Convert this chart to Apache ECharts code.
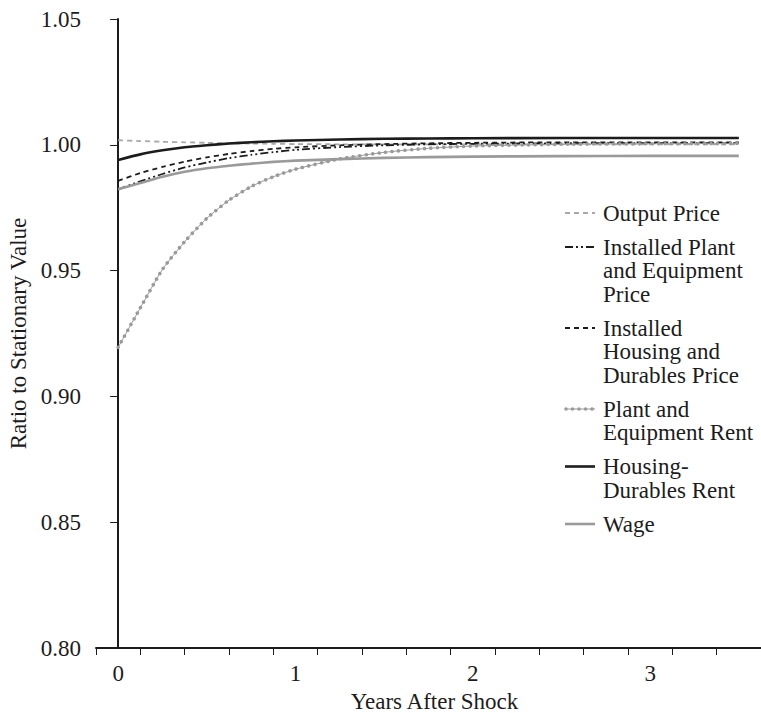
<!DOCTYPE html>
<html><head><meta charset="utf-8">
<script src="https://cdn.jsdelivr.net/npm/echarts@6/dist/echarts.min.js"></script>
<style>html,body{margin:0;padding:0;background:#fff}#c{width:761px;height:713px}</style>
</head><body><div id="c"></div>
<script>
// ---- data ----
const years = [0, 0.125, 0.25, 0.375, 0.5, 0.625, 0.75, 0.875, 1, 1.25, 1.5, 1.75, 2, 2.5, 3, 3.5];
const outputPrice      = [1.0018, 1.0015, 1.0012, 1.0010, 1.0008, 1.0006, 1.0005, 1.0004, 1.0003, 1.0002, 1.0002, 1.0002, 1.0002, 1.0002, 1.0002, 1.0002];
const installedPEPrice = [0.9823, 0.9855, 0.9884, 0.9910, 0.9930, 0.9947, 0.9960, 0.9971, 0.9980, 0.9991, 0.9998, 1.0002, 1.0004, 1.0006, 1.0007, 1.0007];
const installedHDPrice = [0.9857, 0.9888, 0.9912, 0.9933, 0.9950, 0.9964, 0.9975, 0.9984, 0.9990, 0.9998, 1.0003, 1.0006, 1.0008, 1.0010, 1.0010, 1.0010];
const peRent           = [0.9195, 0.9352, 0.9505, 0.9615, 0.9708, 0.9780, 0.9834, 0.9873, 0.9903, 0.9944, 0.9970, 0.9986, 0.9995, 1.0002, 1.0004, 1.0005];
const hdRent           = [0.9940, 0.9962, 0.9978, 0.9990, 0.9998, 1.0005, 1.0010, 1.0014, 1.0017, 1.0021, 1.0024, 1.0025, 1.0026, 1.0027, 1.0027, 1.0027];
const wage             = [0.9823, 0.9848, 0.9873, 0.9893, 0.9907, 0.9917, 0.9925, 0.9932, 0.9937, 0.9943, 0.9948, 0.9951, 0.9953, 0.9955, 0.9956, 0.9956];
const xTickLabels = ['0','','','','1','','','','2','','','','3','',''];
const yMin = 0.80, yMax = 1.05, yStep = 0.05;
const legendNames = ['Output Price', 'Installed Plant\nand Equipment\nPrice', 'Installed\nHousing and\nDurables Price', 'Plant and\nEquipment Rent', 'Housing-\nDurables Rent', 'Wage'];

// ---- chart ----
const FONT = 'Liberation Serif, serif';
const FS = 23;
const BLACK = '#1c1c1c', GRAY = '#9a9a9a', LGRAY = '#a8a8a8';
const pts = arr => years.map((t, i) => [t, arr[i]]);
const chart = echarts.init(document.getElementById('c'), null, {renderer: 'svg'});

const baseLine = {type: 'line', xAxisIndex: 0, yAxisIndex: 0, showSymbol: false, symbol: 'none',
  smooth: 0.2, silent: true, animation: false, z: 3};

const series = [
  Object.assign({}, baseLine, {name: 'Output Price', data: pts(outputPrice),
    lineStyle: {color: LGRAY, width: 1.8, type: [5, 4]}}),
  Object.assign({}, baseLine, {name: 'Installed Plant and Equipment Price', data: pts(installedPEPrice),
    lineStyle: {color: BLACK, width: 1.8, type: [8, 3, 2, 3, 2, 3]}}),
  Object.assign({}, baseLine, {name: 'Installed Housing and Durables Price', data: pts(installedHDPrice),
    lineStyle: {color: BLACK, width: 1.8, type: [5, 4]}}),
  Object.assign({}, baseLine, {name: 'Plant and Equipment Rent', data: pts(peRent),
    lineStyle: {color: GRAY, width: 1, type: 'solid'}}),
  Object.assign({}, baseLine, {name: 'Plant and Equipment Rent dots', data: pts(peRent),
    lineStyle: {color: GRAY, width: 3.6, type: [0.01, 6.5], cap: 'round'}}),
  Object.assign({}, baseLine, {name: 'Housing-Durables Rent', data: pts(hdRent),
    lineStyle: {color: BLACK, width: 2.6, type: 'solid'}}),
  Object.assign({}, baseLine, {name: 'Wage', data: pts(wage),
    lineStyle: {color: GRAY, width: 2.6, type: 'solid'}})
];

// legend drawn as graphic (icon aligned with first text line)
const legendStyles = [
  {stroke: LGRAY, lineWidth: 1.8, lineDash: [5, 4]},
  {stroke: BLACK, lineWidth: 1.8, lineDash: [8, 3, 2, 3, 2, 3]},
  {stroke: BLACK, lineWidth: 1.8, lineDash: [5, 4]},
  {stroke: GRAY, lineWidth: 1, dots: true},
  {stroke: BLACK, lineWidth: 2.6},
  {stroke: GRAY, lineWidth: 2.6}
];
const LH = 23.5, GAP = 10.5;
const legendX0 = 565, legendX1 = 595, textX = 603;
let yc = 213;
const graphics = [];
legendNames.forEach((name, i) => {
  const st = legendStyles[i];
  graphics.push({type: 'line', silent: true, shape: {x1: legendX0, y1: yc, x2: legendX1, y2: yc},
    style: {stroke: st.stroke, lineWidth: st.lineWidth, lineDash: st.lineDash || null}});
  if (st.dots) {
    graphics.push({type: 'line', silent: true, shape: {x1: legendX0 + 1, y1: yc, x2: legendX1, y2: yc},
      style: {stroke: GRAY, lineWidth: 3.6, lineDash: [0.01, 6.5], lineCap: 'round'}});
  }
  graphics.push({type: 'text', silent: true, x: textX, y: yc - LH / 2,
    style: {text: name, font: FS + 'px ' + FONT, fill: BLACK, lineHeight: LH, verticalAlign: 'top', align: 'left'}});
  const lines = name.split('\n').length;
  yc += lines * LH + GAP;
});

chart.setOption({
  animation: false,
  backgroundColor: '#fff',
  grid: {left: 96, top: 19, right: 0, bottom: 65, containLabel: false, outerBoundsMode: 'none'},
  xAxis: [
    {type: 'value', min: -0.125, max: 3.625, show: false},
    {type: 'category', data: xTickLabels, boundaryGap: true, position: 'bottom',
      name: 'Years After Shock', nameLocation: 'middle', nameGap: 40,
      nameTextStyle: {fontFamily: FONT, fontSize: FS, color: BLACK, padding: [0, 0, 0, 12]},
      axisLine: {show: true, lineStyle: {color: BLACK, width: 2}},
      axisTick: {show: true, interval: 0, length: 7, lineStyle: {color: BLACK, width: 1}},
      axisLabel: {interval: 0, margin: 14, fontFamily: FONT, fontSize: FS, color: BLACK},
      splitLine: {show: false}}
  ],
  yAxis: [{type: 'value', min: yMin, max: yMax, interval: yStep,
    name: 'Ratio to Stationary Value', nameLocation: 'middle', nameGap: 66,
    nameTextStyle: {fontFamily: FONT, fontSize: FS, color: BLACK},
    axisLine: {show: true, lineStyle: {color: BLACK, width: 2}},
    axisTick: {show: true, length: 8, lineStyle: {color: BLACK, width: 1}},
    axisLabel: {margin: 15, fontFamily: FONT, fontSize: FS, color: BLACK, formatter: v => v.toFixed(2)},
    splitLine: {show: false}}],
  series: series,
  graphic: graphics
});
</script></body></html>
